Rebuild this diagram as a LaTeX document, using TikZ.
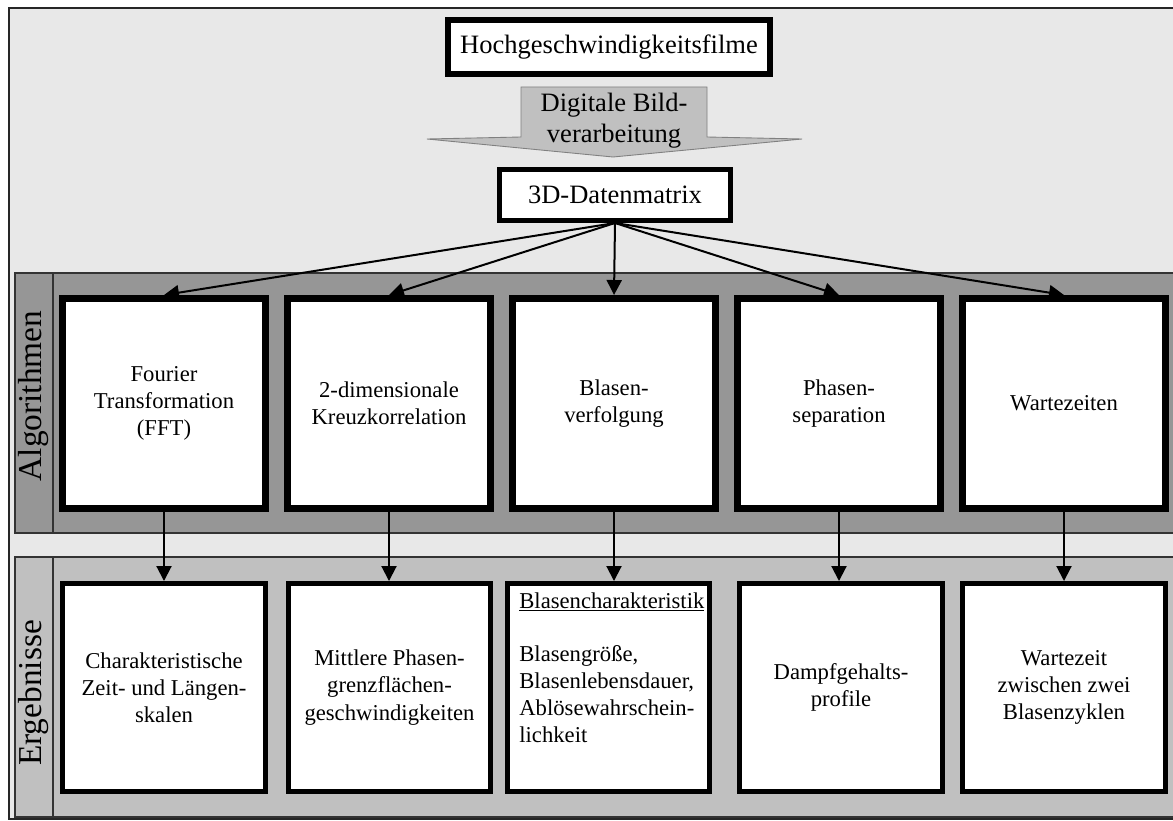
\documentclass[tikz,border=0pt]{standalone}
\usepackage{fontspec}
\setmainfont{Liberation Serif}
\usetikzlibrary{arrows.meta}
\definecolor{hgrund}{HTML}{E8E8E8}
\definecolor{algograu}{HTML}{969696}
\definecolor{ergebgrau}{HTML}{C0C0C0}
\begin{document}
\begin{tikzpicture}[x=0.02cm,y=-0.02cm,
		algobox/.style={draw,fill=white,line width=0.14cm,minimum width=4.06cm,minimum height=4.2cm,inner sep=0pt,align=center,font=\fontsize{12.9}{15.5}\selectfont},
		ergbox/.style={draw,fill=white,line width=0.1cm,minimum width=4.06cm,minimum height=4.16cm,inner sep=0pt,align=center,font=\fontsize{12.9}{15.5}\selectfont},
		kopfbox/.style={draw,fill=white,inner sep=0pt,font=\fontsize{15.1}{17.6}\selectfont},
		band/.style={draw=black!80,line width=0.6pt},
		zeile/.style={rotate=90,inner sep=0pt,font=\fontsize{19}{22}\selectfont},
		pfeil/.style={line width=0.04cm,-{Triangle[length=0.3cm,width=0.3cm]}}]
		\useasboundingbox (0,0) rectangle (1173,821);
		% Hintergrund
		\draw[fill=hgrund,draw=black!85,line width=1pt] (9,8) rectangle (1190,819);
		% Bänder
		\draw[band,fill=algograu] (15,273) rectangle (1190,533);
		\draw[band] (53,273) -- (53,533);
		\draw[band,fill=ergebgrau] (15,557) rectangle (1190,817);
		\draw[band] (53,557) -- (53,817);
		\node[zeile] (lalgo) at (34,396) {Algorithmen};
		\node[zeile] (lerg) at (34,693) {Ergebnisse};
		% Filme und Bildverarbeitung
		\node[kopfbox,line width=0.12cm,minimum width=6.44cm,minimum height=1.08cm] (filme) at (609,47) {Hochgeschwindigkeitsfilme};
		\draw[fill=ergebgrau,draw=black!50,line width=0.5pt] (521,87) -- (707,87) -- (707,137) -- (802,139) -- (613,157) -- (427,139) -- (521,137) -- cycle;
		\node[align=center,inner sep=0pt,font=\fontsize{15.1}{17.6}\selectfont] (bildv) at (614,121) {Digitale Bild-\\verarbeitung};
		\node[kopfbox,line width=0.1cm,minimum width=4.62cm,minimum height=1.02cm] (daten) at (615,195) {3D-Datenmatrix};
		% Algorithmen
		\foreach \t [count=\i] in {{Fourier\\Transformation\\(FFT)},{2-dimensionale\\Kreuzkorrelation},{Blasen-\\verfolgung},{Phasen-\\separation},Wartezeiten}
			\node[algobox] (a\i) at (-61+225*\i,403.5) {\t};
		% Ergebnisse
		\foreach \t/\x [count=\i] in {{Charakteristische\\Zeit- und Längen-\\skalen}/164,{Mittlere Phasen-\\grenzflächen-\\geschwindigkeiten}/389.5,{}/608.5,{Dampfgehalts-\\profile}/841,{Wartezeit\\zwischen zwei\\Blasenzyklen}/1064}
			\node[ergbox] (e\i) at (\x,687.5) {\t};
		\node[anchor=north west,align=left,inner sep=0pt,font=\fontsize{12.9}{15.3}\selectfont] (blasen) at (519,592) {\underline{Blasencharakteristik}\\[15.3pt]Blasengröße,\\Blasenlebensdauer,\\Ablösewahrschein-\\lichkeit};
		% Pfeile
		\foreach \i in {1,...,5} {
			\draw[pfeil] (daten.south) -- (a\i.north);
			\draw[pfeil] (a\i.south) -- (a\i.south |- e\i.north);
		}
	\end{tikzpicture}
\end{document}
